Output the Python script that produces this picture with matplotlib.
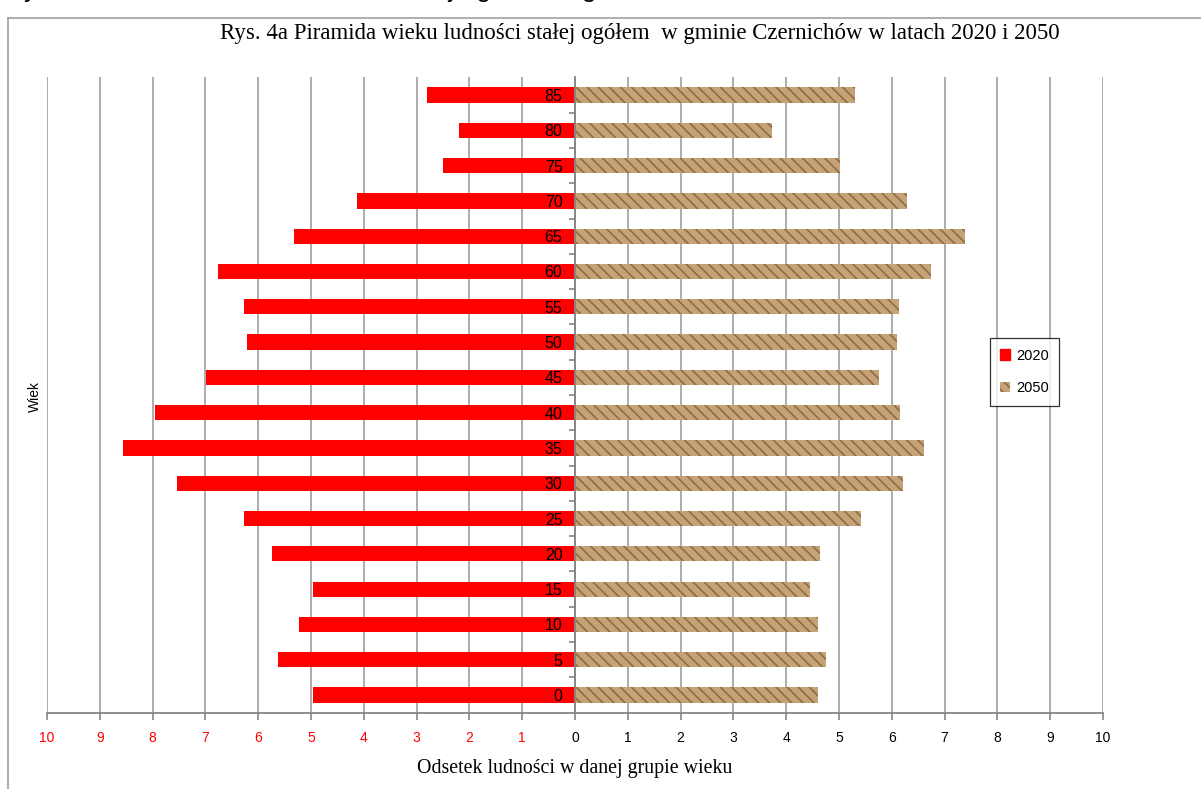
import matplotlib
matplotlib.use("Agg")
import matplotlib.pyplot as plt
from matplotlib.patches import Patch
from matplotlib.lines import Line2D
import numpy as np

# --- DATA FROM IMAGE ---
age_groups = [0, 5, 10, 15, 20, 25, 30, 35, 40, 45, 50, 55, 60, 65, 70, 75, 80, 85]
share_2020 = [4.96, 5.63, 5.23, 4.96, 5.74, 6.27, 7.54, 8.56, 7.95, 6.99,
              6.21, 6.27, 6.76, 5.32, 4.13, 2.50, 2.20, 2.80]
share_2050 = [4.60, 4.75, 4.60, 4.45, 4.64, 5.42, 6.21, 6.61, 6.16, 5.76,
              6.10, 6.14, 6.74, 7.39, 6.29, 5.02, 3.73, 5.31]
x_ticks = list(range(-10, 11))

title = "Rys. 4a Piramida wieku ludności stałej ogółem  w gminie Czernichów w latach 2020 i 2050"
clipped_caption = "Rys. 4a Piramida wieku ludności stałej ogółem w gminie Czernichów w latach 2020 i 2050"

RED = "#FF0000"
TAN = "#C6A377"
TAN_DARK = "#8E6C45"
GRID = "#A6A6A6"

plt.rcParams['hatch.linewidth'] = 1.2

fig = plt.figure(figsize=(12.01, 7.89), dpi=100)
ax = fig.add_axes([0.0391, 0.0968, 0.8793, 0.8051])
ax.set_axisbelow(False)

pos = np.arange(len(age_groups))
ax.barh(pos, -np.array(share_2020), height=0.43, color=RED, zorder=2)
ax.barh(pos, share_2050, height=0.43, color=TAN, edgecolor=TAN_DARK,
        linewidth=0, hatch='\\\\\\', zorder=2)

# vertical grid below the bars
for xv in x_ticks:
    ax.axvline(xv, color=GRID, lw=1.3, zorder=0.5)

ax.set_xlim(-10, 10)
ax.set_ylim(-0.5, len(age_groups) - 0.5)

# category axis sits at x = 0
ax.spines['left'].set_position(('data', 0))
ax.spines['left'].set_color('#868686')
ax.spines['left'].set_linewidth(1.3)
ax.spines['bottom'].set_color('#868686')
ax.spines['bottom'].set_linewidth(1.3)
ax.spines['top'].set_visible(False)
ax.spines['right'].set_visible(False)

ax.set_yticks(pos)
ax.set_yticklabels([str(a) for a in age_groups], fontsize=11.5,
                   family='Liberation Sans')
ax.tick_params(axis='y', which='major', length=0, pad=9)
ax.set_yticks(pos[:-1] + 0.5, minor=True)
ax.tick_params(axis='y', which='minor', length=4, width=1.2, color='#868686',
               direction='out')

ax.set_xticks(x_ticks)
ax.set_xticklabels([str(abs(v)) for v in x_ticks], fontsize=10,
                   family='Liberation Sans')
for lbl, v in zip(ax.get_xticklabels(), x_ticks):
    lbl.set_color(RED if v < 0 else 'black')
ax.tick_params(axis='x', length=5, width=1.2, color='#868686', pad=8)

ax.set_xlabel("Odsetek ludności w danej grupie wieku", family='Liberation Serif',
              fontsize=14.3, labelpad=10)

fig.text(0.029, 0.497, "Wiek", rotation=90, ha='center', va='center',
         fontsize=10, family='Liberation Sans')
fig.text(0.5325, 0.958, title, ha='center', va='center', fontsize=16.5,
         family='Liberation Serif')

# legend
handles = [Patch(facecolor=RED, edgecolor=RED, label='2020'),
           Patch(facecolor=TAN, edgecolor=TAN_DARK, linewidth=0, hatch='\\\\\\', label='2050')]
leg = fig.legend(handles=handles, loc='center', bbox_to_anchor=(0.853, 0.5285),
                 frameon=True, fancybox=False, handlelength=0.7,
                 handleheight=0.7, handletextpad=0.4, labelspacing=1.3,
                 borderpad=0.7, borderaxespad=0,
                 prop={'family': 'Liberation Sans', 'size': 10.5})
leg.get_frame().set_edgecolor('black')
leg.get_frame().set_linewidth(0.9)

# outer chart frame and clipped caption from the document above
x0 = 8 / 1201
y0 = 1 - 18 / 789
fig.add_artist(Line2D([x0, x0], [0, y0], transform=fig.transFigure,
                      color='#A0A0A0', lw=1.2))
fig.add_artist(Line2D([x0, 1], [y0, y0], transform=fig.transFigure,
                      color='#A0A0A0', lw=1.2))
fig.text(0.004, 1 + 3.5 / 789, clipped_caption, ha='left', va='baseline',
         fontsize=19, family='Liberation Sans')

fig.savefig("out.png", dpi=100)
